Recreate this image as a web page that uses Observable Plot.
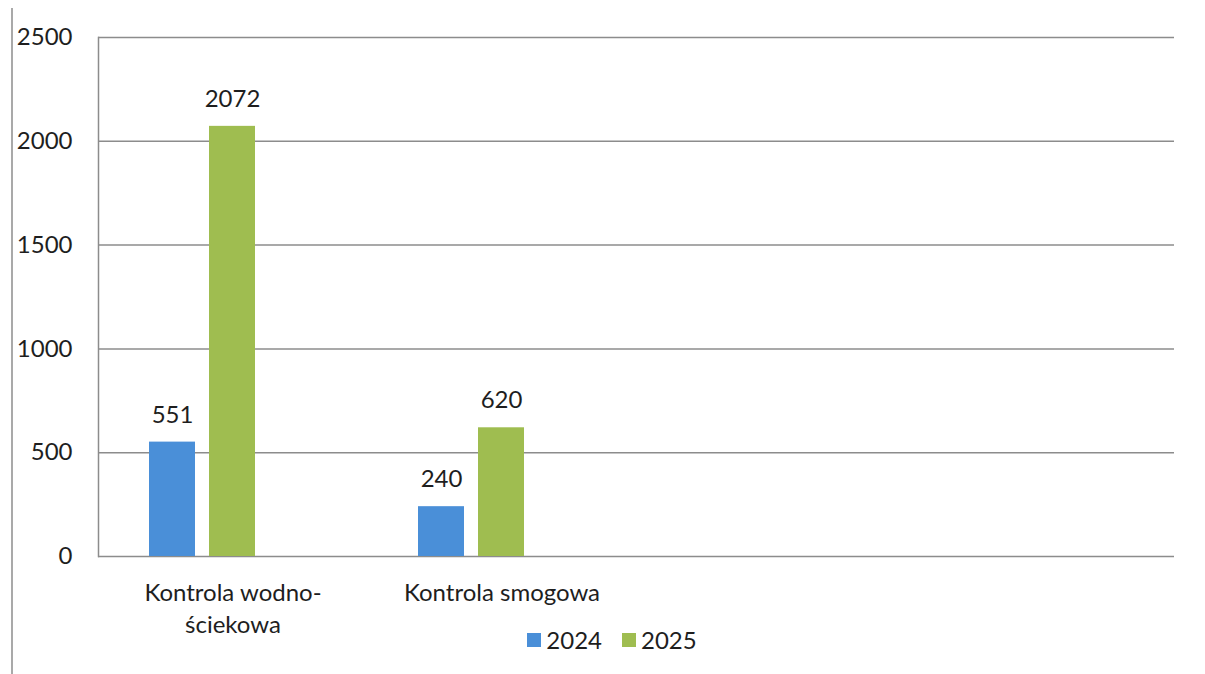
<!DOCTYPE html>
<html><head><meta charset="utf-8">
<script src="https://cdn.jsdelivr.net/npm/d3@7"></script>
<script src="https://cdn.jsdelivr.net/npm/@observablehq/plot@0.6"></script>
<style>
body{margin:0;background:#fff;font-family:Lato,"Open Sans",sans-serif;}
#wrap{position:relative;width:1205px;height:674px;overflow:hidden;}
#frame{position:absolute;left:11px;top:8px;width:0;height:670px;border-left:2px solid #a9a9a9;}
#chart{position:absolute;left:0;top:0;}
#legend{position:absolute;top:625px;left:0;width:1205px;display:flex;justify-content:center;gap:20px;font-size:24px;color:#1e1e1e;padding-left:19px;box-sizing:border-box;}
#legend span{display:inline-flex;align-items:center;gap:5px;}
#legend i{display:inline-block;width:14px;height:14px;}
</style>
</head><body>
<div id="wrap"><div id="frame"></div><div id="chart"></div><div id="legend"></div></div>
<script>
// Data
const slots = ["k1", "k2", "k3", "k4"];
const categories = ["Kontrola wodno-\nściekowa", "Kontrola smogowa", "", ""];
const series = ["2024", "2025"];
const values2024 = [551, 240];
const values2025 = [2072, 620];
const yTicks = [0, 500, 1000, 1500, 2000, 2500];
const colors = ["#4a8fd8", "#9fbd50"];

const data = [];
values2024.forEach((v, i) => data.push({slot: slots[i], series: "2024", value: v}));
values2025.forEach((v, i) => data.push({slot: slots[i], series: "2025", value: v}));

const gridData = slots.flatMap(s => yTicks.map(t => ({slot: s, tick: t})));
const labelOf = new Map(slots.map((s, i) => [s, categories[i]]));

const chart = Plot.plot({
  width: 1205,
  height: 674,
  marginLeft: 97,
  marginRight: 30,
  marginTop: 37,
  marginBottom: 118,
  style: {fontFamily: "Lato, 'Open Sans', sans-serif", fontSize: "24px", color: "#1e1e1e", background: "transparent"},
  fx: {domain: slots, padding: 0, label: null, axis: null},
  x: {domain: [...series, "_"], axis: null, paddingInner: 0.23, paddingOuter: 0.83},
  y: {domain: [0, 2500], label: null, axis: null},
  color: {domain: series, range: colors},
  marks: [
    Plot.ruleY(gridData, {fx: "slot", y: "tick", stroke: "#8c8c8c", strokeWidth: 1.5}),
    Plot.axisY(yTicks, {facetAnchor: "left", anchor: "left", tickSize: 0, tickPadding: 26, label: null, fontSize: 24, fill: "#1e1e1e", tickFormat: d => String(d)}),
    Plot.axisFx({anchor: "bottom", tickSize: 0, tickPadding: 22, label: null, fontSize: 24, fill: "#1e1e1e", lineHeight: 1.33, tickFormat: d => labelOf.get(d)}),
    Plot.barY(data, {fx: "slot", x: "series", y: "value", fill: "series"}),
    Plot.frame({anchor: "left", stroke: "#8c8c8c", strokeWidth: 1.5, facet: "super"}),
    Plot.text(data, {fx: "slot", x: "series", y: "value", text: d => String(d.value), dy: -27, fontSize: 24, fill: "#1e1e1e"})
  ]
});
document.getElementById("chart").appendChild(chart);

const legend = document.getElementById("legend");
series.forEach((s, i) => {
  const el = document.createElement("span");
  el.innerHTML = `<i style="background:${colors[i]}"></i>${s}`;
  legend.appendChild(el);
});
</script>
</body></html>
